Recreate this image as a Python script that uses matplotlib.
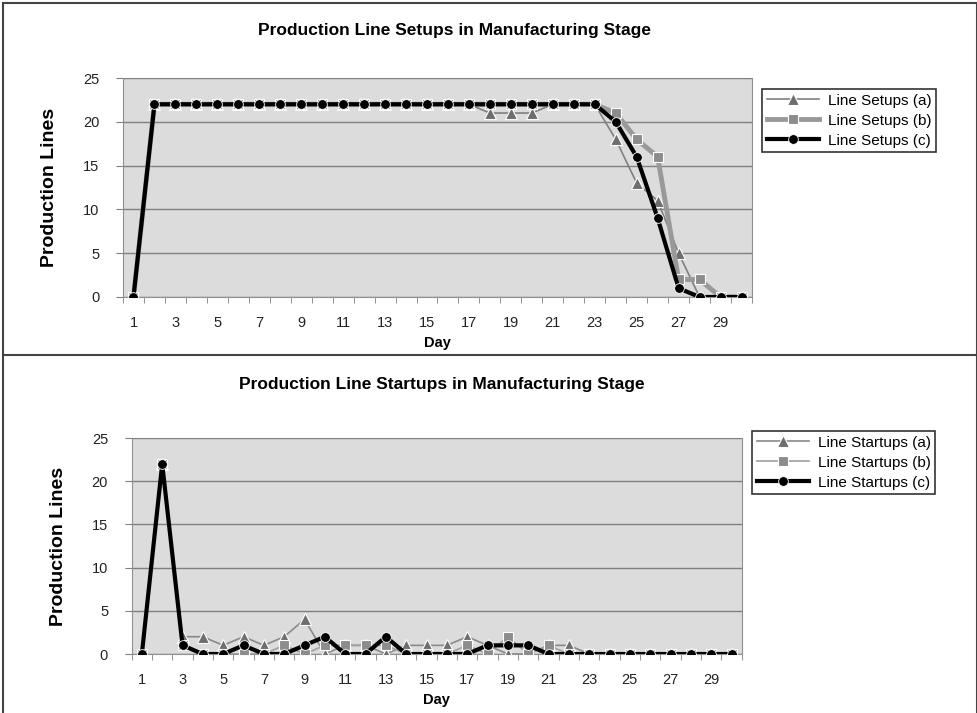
import numpy as np
import matplotlib
matplotlib.use('Agg')
import matplotlib.pyplot as plt
from matplotlib.lines import Line2D

plt.rcParams['font.family'] = ['Liberation Sans', 'DejaVu Sans']

# Data
days = list(range(1, 31))

setups_a = [0, 22, 22, 22, 22, 22, 22, 22, 22, 22, 22, 22, 22, 22, 22, 22, 22, 21, 21, 21,
            22, 22, 22, 18, 13, 11, 5, 0, 0, 0]
setups_b = [0, 22, 22, 22, 22, 22, 22, 22, 22, 22, 22, 22, 22, 22, 22, 22, 22, 22, 22, 22,
            22, 22, 22, 21, 18, 16, 2, 2, 0, 0]
setups_c = [0, 22, 22, 22, 22, 22, 22, 22, 22, 22, 22, 22, 22, 22, 22, 22, 22, 22, 22, 22,
            22, 22, 22, 20, 16, 9, 1, 0, 0, 0]

startups_a = [0, 22, 2, 2, 1, 2, 1, 2, 4, 0, 1, 1, 0, 1, 1, 1, 2, 1, 0, 0,
              1, 1, 0, 0, 0, 0, 0, 0, 0, 0]
startups_b = [0, 22, 1, 0, 0, 0, 0, 1, 0, 1, 1, 1, 1, 0, 0, 0, 1, 0, 2, 0,
              1, 0, 0, 0, 0, 0, 0, 0, 0, 0]
startups_c = [0, 22, 1, 0, 0, 1, 0, 0, 1, 2, 0, 0, 2, 0, 0, 0, 0, 1, 1, 1,
              0, 0, 0, 0, 0, 0, 0, 0, 0, 0]

W, H = 978, 713
fig = plt.figure(figsize=(W / 100, H / 100), dpi=100)
fig.patch.set_facecolor('white')


def px_axes(left, top, right, bottom):
    return fig.add_axes([left / W, 1 - bottom / H, (right - left) / W, (bottom - top) / H])


def style_axes(ax):
    ax.set_facecolor('#dcdcdc')
    ax.set_xlim(0.5, 30.5)
    ax.set_ylim(0, 25)
    ax.set_yticks(range(0, 26, 5))
    ax.set_xticks(range(1, 30, 2))
    ax.set_xticks(np.arange(0.5, 31, 1), minor=True)
    ax.tick_params(axis='x', which='major', length=0, pad=14, labelsize=10.5, colors='#222222')
    ax.tick_params(axis='x', which='minor', length=4, color='#808080', direction='out')
    ax.tick_params(axis='y', length=5, color='#808080', labelsize=10.5, colors='#222222', pad=12)
    ax.grid(axis='y', color='#808080', linewidth=1)
    ax.set_axisbelow(True)
    for s in ['left', 'bottom', 'right']:
        ax.spines[s].set_color('#909090')
    ax.spines['top'].set_visible(False)
    ax.set_ylabel('Production Lines', fontsize=14, fontweight='bold', labelpad=18)
    ax.set_xlabel('Day', fontsize=10.5, fontweight='bold', labelpad=4)


# Top chart
ax1 = px_axes(123, 78, 752, 297)
style_axes(ax1)
ax1.plot(days, setups_a, color='#808080', linewidth=1.2, marker='^', markersize=8,
         markerfacecolor='#6e6e6e', markeredgecolor='white', markeredgewidth=0.8,
         label='Line Setups (a)', zorder=3)
ax1.plot(days, setups_b, color='#999999', linewidth=3.5, marker='s', markersize=7,
         markerfacecolor='#8c8c8c', markeredgecolor='white', markeredgewidth=0.8,
         label='Line Setups (b)', zorder=4)
ax1.plot(days, setups_c, color='black', linewidth=3, marker='o', markersize=7,
         markerfacecolor='black', markeredgecolor='white', markeredgewidth=0.6,
         label='Line Setups (c)', zorder=5)
fig.text(455 / W, 1 - 30 / H, 'Production Line Setups in Manufacturing Stage',
         ha='center', va='center', fontsize=12.5, fontweight='bold')
leg1 = ax1.legend(loc='upper left', bbox_to_anchor=(762 / W, 1 - 89 / H),
                  bbox_transform=fig.transFigure, fontsize=11, frameon=True,
                  fancybox=False, edgecolor='black', handlelength=3.4,
                  borderaxespad=0, labelspacing=0.4, borderpad=0.3, handletextpad=0.6)
leg1.get_frame().set_linewidth(1.2)

# Bottom chart
ax2 = px_axes(131.7, 438, 741.7, 654)
style_axes(ax2)
ax2.plot(days, startups_a, color='#8a8a8a', linewidth=1.2, marker='^', markersize=8,
         markerfacecolor='#6e6e6e', markeredgecolor='white', markeredgewidth=0.8,
         label='Line Startups (a)', zorder=3)
ax2.plot(days, startups_b, color='#a0a0a0', linewidth=1.2, marker='s', markersize=7,
         markerfacecolor='#8c8c8c', markeredgecolor='white', markeredgewidth=0.8,
         label='Line Startups (b)', zorder=4)
ax2.plot(days, startups_c, color='black', linewidth=3, marker='o', markersize=7,
         markerfacecolor='black', markeredgecolor='white', markeredgewidth=0.6,
         label='Line Startups (c)', zorder=5)
fig.text(442 / W, 1 - 384 / H, 'Production Line Startups in Manufacturing Stage',
         ha='center', va='center', fontsize=12.5, fontweight='bold')
leg2 = ax2.legend(loc='upper left', bbox_to_anchor=(752 / W, 1 - 431 / H),
                  bbox_transform=fig.transFigure, fontsize=11, frameon=True,
                  fancybox=False, edgecolor='black', handlelength=3.4,
                  borderaxespad=0, labelspacing=0.4, borderpad=0.3, handletextpad=0.6)
leg2.get_frame().set_linewidth(1.2)

# Outer frame and divider
frame_col = '#444444'
fig.add_artist(Line2D([3 / W, 3 / W], [0, 1 - 3 / H], color=frame_col, linewidth=1.5))
fig.add_artist(Line2D([3 / W, 977 / W], [1 - 3 / H, 1 - 3 / H], color=frame_col, linewidth=1.5))
fig.add_artist(Line2D([977 / W, 977 / W], [0, 1 - 3 / H], color=frame_col, linewidth=1.5))
fig.add_artist(Line2D([3 / W, 977 / W], [1 - 355 / H, 1 - 355 / H], color=frame_col, linewidth=1.5))

fig.savefig('out.png', dpi=100)
